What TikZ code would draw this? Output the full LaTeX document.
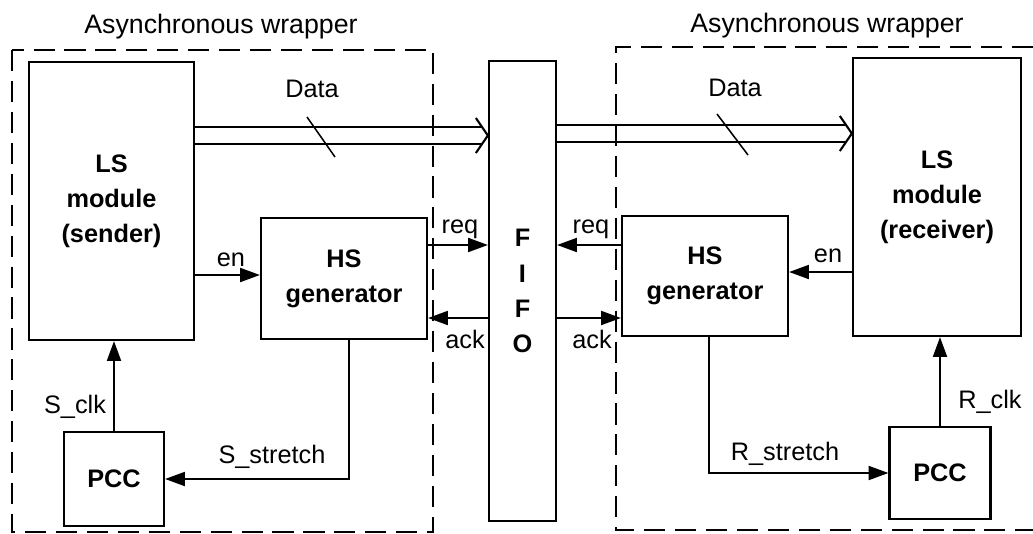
\documentclass[tikz,border=0pt]{standalone}
\usepackage{fontspec}
\setmainfont{Liberation Sans}
\usetikzlibrary{arrows.meta}

\begin{document}
\begin{tikzpicture}[x=0.025cm, y=-0.025cm, line width=1.1pt,
    >={Triangle[length=14pt, width=10pt]},
    blk/.style={draw, line width=1.6pt, inner sep=0pt, align=center,
        font=\fontsize{18}{25}\selectfont\bfseries},
    lbl/.style={anchor=base, inner sep=0pt, font=\fontsize{18}{22}\selectfont},
    ttl/.style={anchor=base, inner sep=0pt, font=\fontsize{19}{22}\selectfont},
    wrap/.style={line width=2.1pt, dash pattern=on 15pt off 7pt},
    bus/.style={line width=1.5pt, line join=miter}]
    \useasboundingbox (0,0) rectangle (1033,533);

    % Blocks
    \node[blk, minimum width=4.125cm, minimum height=6.95cm] (LSs) at (111.5,201) {LS\\module\\(sender)};
    \node[blk, minimum width=4.15cm, minimum height=3.025cm] (HSs) at (344,278.5) {HS\\generator};
    \node[blk, minimum width=2.5cm, minimum height=2.35cm] (PCCs) at (114,479) {PCC};
    \node[blk, minimum width=1.675cm, minimum height=11.5cm] (FIFO) at (522.5,291) {F\\I\\F\\O};
    \node[blk, minimum width=4.15cm, minimum height=3cm] (HSr) at (705,276) {HS\\generator};
    \node[blk, minimum width=4.2cm, minimum height=6.95cm] (LSr) at (937,197) {LS\\module\\(receiver)};
    \node[blk, minimum width=2.525cm, minimum height=2.3cm] (PCCr) at (940,473) {PCC};

    % Data buses
    \draw[bus] (LSs.east |- 0,127) -- ([xshift=-0.15cm]FIFO.west |- 0,127);
    \draw[bus] (LSs.east |- 0,144) -- ([xshift=-0.15cm]FIFO.west |- 0,144);
    \draw[bus] ([xshift=-0.3cm]FIFO.west |- 0,118) -- (FIFO.west |- 0,135.5)
        -- ([xshift=-0.3cm]FIFO.west |- 0,153);
    \draw[bus] (FIFO.east |- 0,125) -- ([xshift=-0.15cm]LSr.west |- 0,125);
    \draw[bus] (FIFO.east |- 0,142) -- ([xshift=-0.15cm]LSr.west |- 0,142);
    \draw[bus] ([xshift=-0.3cm]LSr.west |- 0,116) -- (LSr.west |- 0,133.5)
        -- ([xshift=-0.3cm]LSr.west |- 0,151);
    \draw (307,117) -- (335,157);
    \draw (717,114) -- (748,155);

    % Handshake and control signals
    \draw[->] (LSs.east |- 0,275) -- (HSs.west |- 0,275);
    \draw[->] (HSs.east |- 0,245) -- (FIFO.west |- 0,245);
    \draw[->] (FIFO.west |- 0,318) -- (HSs.east |- 0,318);
    \draw[->] (HSr.west |- 0,245) -- (FIFO.east |- 0,245);
    \draw[->] (FIFO.east |- 0,318) -- (HSr.west |- 0,318);
    \draw[->] (LSr.west |- 0,272) -- (HSr.east |- 0,272);
    \draw[->] (PCCs.north) -- (PCCs.north |- LSs.south);
    \draw[->] (PCCr.north) -- (PCCr.north |- LSr.south);
    \draw[->] (HSs.south -| 349,0) |- (PCCs.east);
    \draw[->] (HSr.south -| 709,0) |- (PCCr.west);

    % Wrappers
    \draw[wrap] (12,50) rectangle (433,532);
    \draw[wrap] (1033,47) -- (616,47) -- (616,530) -- (1033,530);

    % Labels
    \node[ttl] (ttlS) at (221,33) {Asynchronous wrapper};
    \node[ttl] (ttlR) at (827,32) {Asynchronous wrapper};
    \node[lbl] (dataS) at (312,97) {Data};
    \node[lbl] (dataR) at (735,96) {Data};
    \node[lbl] (enS) at (231,266) {en};
    \node[lbl] (reqS) at (460,233) {req};
    \node[lbl] (ackS) at (465,348) {ack};
    \node[lbl] (reqR) at (591,233) {req};
    \node[lbl] (ackR) at (592,348) {ack};
    \node[lbl] (enR) at (828,262) {en};
    \node[lbl] (clkS) at (75,413) {S\_clk};
    \node[lbl] (strS) at (272,463) {S\_stretch};
    \node[lbl] (strR) at (785,460) {R\_stretch};
    \node[lbl] (clkR) at (990,408) {R\_clk};
\end{tikzpicture}
\end{document}
